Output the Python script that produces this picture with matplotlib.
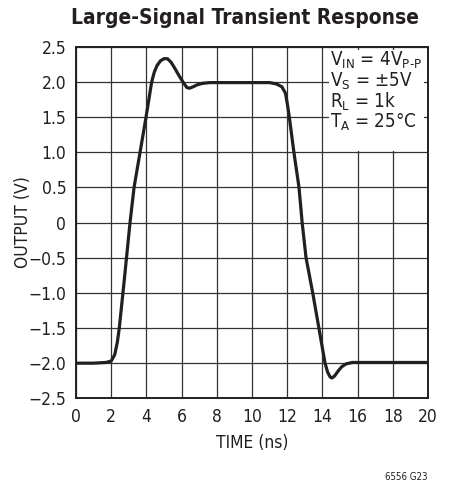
import matplotlib
matplotlib.use("Agg")
import matplotlib.pyplot as plt
from matplotlib import font_manager
from matplotlib.patches import Rectangle

# narrow sans if we have one, otherwise condensed DejaVu
names = {f.name for f in font_manager.fontManager.ttflist}
if "Liberation Sans Narrow" in names:
    FONT = "Liberation Sans Narrow"
else:
    FONT = "DejaVu Sans"
plt.rcParams["font.family"] = [FONT, "DejaVu Sans"]
plt.rcParams["font.stretch"] = "condensed"
plt.rcParams["mathtext.fontset"] = "custom"
plt.rcParams["mathtext.rm"] = FONT + ":stretch=condensed"
plt.rcParams["mathtext.it"] = FONT + ":stretch=condensed"

# output trace (time in ns, output in V)
time_ns = [0.0, 1.0, 1.7, 2.0, 2.2, 2.35, 2.46, 2.75, 3.07, 3.3, 3.64, 3.98,
           4.3, 4.45, 4.6, 4.8, 5.0, 5.2, 5.4, 5.6, 5.85, 6.1, 6.3, 6.45,
           6.65, 6.9, 7.2, 7.6, 9.0, 11.0, 11.4, 11.7, 11.9, 12.0, 12.12,
           12.38, 12.67, 12.85, 13.07, 13.45, 13.8, 14.15, 14.3, 14.45,
           14.55, 14.7, 14.9, 15.1, 15.35, 15.7, 16.0, 18.0, 20.0]
output_v = [-2.0, -2.0, -1.99, -1.97, -1.88, -1.7, -1.5, -0.8, 0.0, 0.5, 1.0, 1.5,
            2.0, 2.14, 2.23, 2.3, 2.33, 2.33, 2.28, 2.2, 2.09, 1.99, 1.92, 1.91,
            1.93, 1.96, 1.98, 1.99, 1.99, 1.99, 1.97, 1.93, 1.84, 1.7, 1.5,
            1.0, 0.5, 0.0, -0.5, -1.0, -1.5, -2.0, -2.13, -2.2,
            -2.21, -2.18, -2.11, -2.05, -2.01, -1.99, -1.99, -1.99, -1.99]

x_ticks = [0, 2, 4, 6, 8, 10, 12, 14, 16, 18, 20]
y_ticks = [2.5, 2.0, 1.5, 1.0, 0.5, 0, -0.5, -1.0, -1.5, -2.0, -2.5]
y_labels = ["2.5", "2.0", "1.5", "1.0", "0.5", "0", "\u22120.5", "\u22121.0",
            "\u22121.5", "\u22122.0", "\u22122.5"]

fig = plt.figure(figsize=(4.51, 4.92), dpi=100)
ax = fig.add_axes([0.1685, 0.1904, 0.7805, 0.7146])

ax.plot(time_ns, output_v, color="#231f20", lw=2.3, solid_capstyle="round",
        solid_joinstyle="round", zorder=3)

ax.set_xlim(0, 20)
ax.set_ylim(-2.5, 2.5)
ax.set_xticks(x_ticks)
ax.set_yticks(y_ticks)
ax.set_yticklabels(y_labels)
ax.tick_params(length=0, labelsize=12.5, pad=7, colors="#231f20")
ax.set_axisbelow(True)
ax.grid(True, color="#333333", lw=0.9)
for s in ax.spines.values():
    s.set_linewidth(1.4)
    s.set_color("#231f20")

# white box behind the conditions text
ax.add_patch(Rectangle((14.35, 1.02), 5.45, 1.43, facecolor="white",
                       edgecolor="none", zorder=1))
cond = [r"V$_{\mathrm{IN}}$ = 4V$_{\mathrm{P\text{-}P}}$",
        r"V$_{\mathrm{S}}$ = ±5V",
        r"R$_{\mathrm{L}}$ = 1k",
        r"T$_{\mathrm{A}}$ = 25°C"]
for i, line in enumerate(cond):
    ax.text(14.45, 2.3 - i * 0.29, line, fontsize=13.5, color="#231f20",
            va="center", ha="left", zorder=4)

ax.set_xlabel("TIME (ns)", fontsize=12.5, color="#231f20", labelpad=6)
ax.set_ylabel("OUTPUT (V)", fontsize=12.5, color="#231f20")
ax.yaxis.set_label_coords(-0.125, 0.5)

fig.text(0.543, 0.963, "Large-Signal Transient Response", fontsize=15,
         fontweight="bold", ha="center", va="center", color="#231f20")
fig.text(0.948, 0.03, "6556 G23", fontsize=7, ha="right", va="center",
         color="#231f20")

fig.savefig("out.png", dpi=100)
